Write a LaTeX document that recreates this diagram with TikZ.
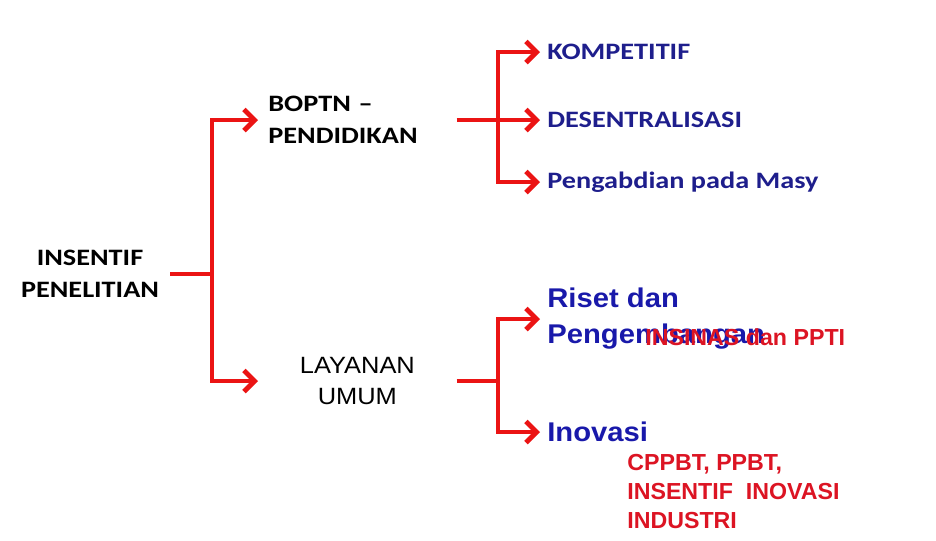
\documentclass[tikz,border=0pt]{standalone}
\usepackage{fontspec}
\setmainfont{Carlito}
\newfontfamily\calibri[FakeStretch=1.2]{Carlito}
\newfontfamily\arial[FakeStretch=1.08]{Liberation Sans}
\newfontfamily\arialnote{Liberation Sans}
\usetikzlibrary{arrows.meta}
\definecolor{arrowred}{RGB}{235,20,20}
\definecolor{navytext}{RGB}{30,30,140}
\definecolor{bluetext}{RGB}{25,25,170}
\definecolor{notered}{RGB}{220,20,35}

\begin{document}
\begin{tikzpicture}[
        x=0.2mm, y=-0.2mm,
        topic/.style={inner xsep=0.8mm, inner ysep=0pt, align=center, font={\calibri\bfseries\fontsize{13.4}{18.2}\selectfont}},
        group/.style={anchor=west, inner xsep=2mm, inner ysep=0pt, text width=35.6mm, align=left, font={\calibri\bfseries\fontsize{13.4}{18.2}\selectfont}},
        service/.style={anchor=west, inner xsep=0.8mm, inner ysep=0pt, text width=38mm, align=center, font={\arial\fontsize{13.4}{18.2}\selectfont}},
        scheme/.style={anchor=west, inner xsep=1.4mm, inner ysep=0pt, text=navytext, font={\calibri\bfseries\fontsize{13.4}{18.2}\selectfont}},
        program/.style={anchor=west, inner xsep=1.4mm, inner ysep=0pt, align=left, text=bluetext, font={\arial\bfseries\fontsize{15.4}{20.5}\selectfont}},
        note/.style={inner sep=0pt, align=left, text=notered, font={\arialnote\bfseries\fontsize{13.2}{16.5}\selectfont}},
        link/.style={draw, arrowred, line width=2.8pt},
        fork/.style={link, -{Straight Barb[length=6pt, width=12pt]}}]
    \useasboundingbox (0,0) rectangle (936,540);

    % left column
    \node[topic, text width=30.4mm] (ins) at (90,274) {INSENTIF\\PENELITIAN};
    \node[group] (bop) at (258,120) {BOPTN –\\PENDIDIKAN};
    \node[service] (lay) at (258,381) {LAYANAN\\UMUM};

    % right column
    \node[scheme] (kom) at (540,52) {KOMPETITIF};
    \node[scheme] (des) at (540,120) {DESENTRALISASI};
    \node[scheme] (pen) at (540,182) {Pengabdian pada Masy};
    \node[program] (ris) at (540,319) {Riset dan\\Pengembangan};
    \node[program] (ino) at (540,432) {Inovasi};

    % red notes
    \node[note, anchor=base west] (sinas) at (645,345) {INSINAS dan PPTI};
    \node[note, anchor=west] (cpp) at (627,492) {CPPBT, PPBT,\\INSENTIF~ INOVASI\\INDUSTRI};

    % forks
    \coordinate (j1) at (212,274);
    \coordinate (j2) at (498,120);
    \coordinate (j3) at (498,381);

    \path[link] (ins.east) -- (j1);
    \path[fork] (j1) |- (bop.west);
    \path[fork] (j1) |- (lay.west);
    \path[link] (bop.east) -- (j2);
    \path[fork] (j2) |- (kom.west);
    \path[fork] (j2) -- (des.west);
    \path[fork] (j2) |- (pen.west);
    \path[link] (lay.east) -- (j3);
    \path[fork] (j3) |- (ris.west);
    \path[fork] (j3) |- (ino.west);
\end{tikzpicture}
\end{document}
